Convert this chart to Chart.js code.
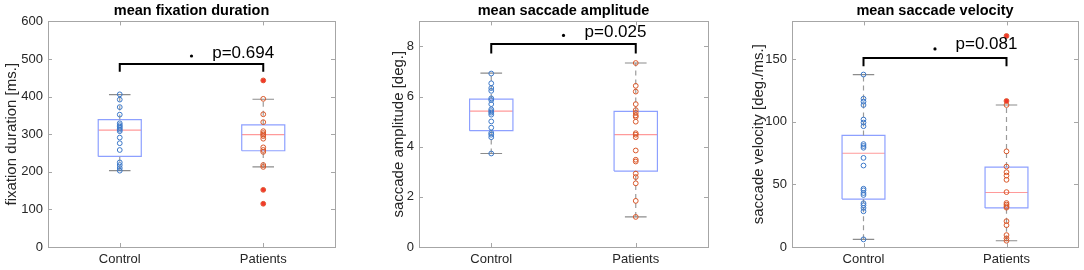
<!DOCTYPE html>
<html>
<head>
<meta charset="utf-8">
<script src="https://cdn.jsdelivr.net/npm/chart.js@4.4.1/dist/chart.umd.min.js"></script>
<style>
  html, body { margin: 0; padding: 0; background: #fff; }
  #wrap { position: relative; width: 1084px; height: 270px; }
  canvas { position: absolute; top: 0; }
</style>
</head>
<body>
<div id="wrap">
  <canvas id="c1" width="360" height="270" style="left:0px"></canvas>
  <canvas id="c2" width="360" height="270" style="left:360px"></canvas>
  <canvas id="c3" width="364" height="270" style="left:720px"></canvas>
</div>
<script>
const categories = ['Control', 'Patients'];

// mean fixation duration
const fixControl = [406, 392, 372, 352, 329, 324, 320, 316, 312, 308, 291, 276, 258, 225, 218, 210, 203];
const fixPatients = [443, 394, 353, 332, 308, 303, 299, 295, 288, 265, 258, 253, 218, 213, 152, 115];
const fixOutliers = [443, 152, 115];
const fixQ1 = [241, 256];
const fixMedian = [311, 299];
const fixQ3 = [339, 325];
const fixLow = [203, 213];
const fixHigh = [405, 393];
const fixTicks = [0, 100, 200, 300, 400, 500, 600];

// mean saccade amplitude
const ampControl = [6.92, 6.53, 6.34, 6.23, 5.93, 5.86, 5.70, 5.49, 5.42, 5.36, 5.28, 5.01, 4.76, 4.55, 4.48, 4.38, 3.73];
const ampPatients = [7.34, 6.43, 6.20, 5.70, 5.46, 5.35, 5.25, 5.19, 5.00, 4.54, 4.48, 4.38, 3.85, 3.48, 3.41, 2.93, 2.79, 2.54, 1.84, 1.20];
const ampOutliers = [];
const ampQ1 = [4.64, 3.03];
const ampMedian = [5.42, 4.48];
const ampQ3 = [5.90, 5.41];
const ampLow = [3.73, 1.20];
const ampHigh = [6.94, 7.34];
const ampTicks = [0, 2, 4, 6, 8];

// mean saccade velocity
const velControl = [137.6, 118.3, 116, 113.3, 101.7, 99.3, 96.4, 82.1, 80.6, 79.2, 71.1, 65, 46.5, 45.2, 43.1, 41.5, 34.9, 33.3, 31.2, 28.5, 6.1];
const velPatients = [168.4, 116.5, 113.3, 76.3, 64.2, 59.7, 57, 53.6, 43.8, 35.1, 33.8, 32.5, 31.4, 20.6, 17.4, 9.5, 6.9, 5.0];
const velOutliers = [168.4, 116.5];
const velQ1 = [38.2, 31.2];
const velMedian = [74.8, 43.5];
const velQ3 = [89, 63.8];
const velLow = [6.1, 5.0];
const velHigh = [137.6, 113.3];
const velTicks = [0, 50, 100, 150];

const pValues = ['p=0.694', 'p=0.025', 'p=0.081'];

const FONT = '"Liberation Sans", Arial, Helvetica, sans-serif';
const BOX_HALF = 0.15;
const CAP_HALF = 0.075;

function seg(points, color, width, dash) {
  return {
    data: points, showLine: true, borderColor: color, borderWidth: width,
    borderDash: dash || [], pointRadius: 0, tension: 0, order: 5
  };
}

function groupDatasets(q1, med, q3, lo, hi) {
  const out = [];
  for (let i = 0; i < 2; i++) {
    const x = i + 1;
    out.push(seg([{x: x, y: q3[i]}, {x: x, y: hi[i]}], '#9a9a9a', 1.2, [5, 4]));
    out.push(seg([{x: x, y: lo[i]}, {x: x, y: q1[i]}], '#9a9a9a', 1.2, [5, 4]));
    out.push(seg([{x: x - CAP_HALF, y: hi[i]}, {x: x + CAP_HALF, y: hi[i]}], '#8c8c8c', 1.2));
    out.push(seg([{x: x - CAP_HALF, y: lo[i]}, {x: x + CAP_HALF, y: lo[i]}], '#8c8c8c', 1.2));
    out.push(seg([
      {x: x - BOX_HALF, y: q1[i]}, {x: x + BOX_HALF, y: q1[i]},
      {x: x + BOX_HALF, y: q3[i]}, {x: x - BOX_HALF, y: q3[i]},
      {x: x - BOX_HALF, y: q1[i]}
    ], '#8da0ff', 1.2));
    out.push(seg([{x: x - BOX_HALF, y: med[i]}, {x: x + BOX_HALF, y: med[i]}], '#ff9a9a', 1.2));
  }
  return out;
}

function pointsDataset(values, x, color) {
  return {
    data: values.map(v => ({x: x, y: v})), showLine: false,
    pointStyle: 'circle', pointRadius: 2.4, pointBorderWidth: 1,
    pointBorderColor: color, pointBackgroundColor: 'rgba(0,0,0,0)', order: 1
  };
}

const frame = {
  id: 'frame',
  afterDraw(chart) {
    const {ctx, chartArea: a, scales} = chart;
    ctx.save();
    ctx.strokeStyle = '#a6a6a6';
    ctx.lineWidth = 1;
    ctx.strokeRect(Math.round(a.left) + 0.5, Math.round(a.top) + 0.5,
      Math.round(a.right - a.left), Math.round(a.bottom - a.top));
    ctx.beginPath();
    scales.y.ticks.forEach(t => {
      const y = Math.round(scales.y.getPixelForValue(t.value)) + 0.5;
      ctx.moveTo(a.left, y); ctx.lineTo(a.left + 4, y);
      ctx.moveTo(a.right, y); ctx.lineTo(a.right - 4, y);
    });
    scales.x.ticks.forEach(t => {
      const x = Math.round(scales.x.getPixelForValue(t.value)) + 0.5;
      ctx.moveTo(x, a.bottom); ctx.lineTo(x, a.bottom - 4);
      ctx.moveTo(x, a.top); ctx.lineTo(x, a.top + 4);
    });
    ctx.stroke();
    ctx.restore();
  }
};

const pLabel = {
  id: 'pLabel',
  afterDatasetsDraw(chart, args, opts) {
    const {ctx, scales} = chart;
    ctx.save();
    ctx.fillStyle = '#000';
    ctx.font = '17px ' + FONT;
    ctx.textAlign = 'center';
    ctx.textBaseline = 'middle';
    ctx.fillText(opts.text, scales.x.getPixelForValue(opts.x), scales.y.getPixelForValue(opts.y));
    ctx.restore();
  }
};

function makeChart(id, p) {
  const datasets = [
    {
      data: p.outliers.map(v => ({x: 2, y: v})), showLine: false,
      pointStyle: 'circle', pointRadius: 2.2, pointBorderWidth: 0,
      pointBackgroundColor: '#f03a2a', order: 0
    },
    pointsDataset(p.control, 1, '#3c78c8'),
    pointsDataset(p.patients, 2, '#d9582a'),
    ...groupDatasets(p.q1, p.median, p.q3, p.low, p.high),
    seg([{x: 1, y: p.legY}, {x: 1, y: p.barY}, {x: 2, y: p.barY}, {x: 2, y: p.legY}], '#000', 2),
    {
      data: [{x: 1.5, y: p.dotY}], showLine: false, pointStyle: 'circle',
      pointRadius: 1.6, pointBorderWidth: 0, pointBackgroundColor: '#000', order: 0
    }
  ];

  new Chart(document.getElementById(id), {
    type: 'scatter',
    data: {datasets: datasets},
    plugins: [frame, pLabel],
    options: {
      responsive: false,
      animation: false,
      layout: {padding: {left: 0, right: p.rightPad, top: 0, bottom: 0}},
      plugins: {
        legend: {display: false},
        tooltip: {enabled: false},
        title: {
          display: true, text: p.title, fullSize: false, color: '#000',
          font: {family: FONT, size: 14.5, weight: 'bold'},
          padding: {top: 2, bottom: 2}
        },
        pLabel: {text: p.pText, x: 1.86, y: p.textY}
      },
      scales: {
        x: {
          type: 'linear', min: 0.5, max: 2.5,
          grid: {display: false, drawTicks: false}, border: {display: false},
          afterBuildTicks: s => { s.ticks = [{value: 1}, {value: 2}]; },
          afterFit: s => { s.height = 23; },
          ticks: {
            callback: v => categories[v - 1], color: '#262626', padding: 5,
            font: {family: FONT, size: 13}, maxRotation: 0
          }
        },
        y: {
          min: 0, max: p.max,
          grid: {display: false, drawTicks: false}, border: {display: false},
          afterBuildTicks: s => { s.ticks = p.ticks.map(v => ({value: v})); },
          afterFit: s => { s.width = p.yWidth; },
          ticks: {color: '#262626', padding: 5, font: {family: FONT, size: 13}},
          title: {
            display: true, text: p.yTitle, color: '#262626',
            font: {family: FONT, size: 15}, padding: {top: p.titlePad, bottom: 0}
          }
        }
      }
    }
  });
}

makeChart('c1', {
  title: 'mean fixation duration', yTitle: 'fixation duration [ms.]',
  control: fixControl, patients: fixPatients, outliers: fixOutliers,
  q1: fixQ1, median: fixMedian, q3: fixQ3, low: fixLow, high: fixHigh,
  ticks: fixTicks, max: 600, pText: pValues[0],
  legY: 466, barY: 487, dotY: 508, textY: 516,
  yWidth: 48, titlePad: 3, rightPad: 25
});

makeChart('c2', {
  title: 'mean saccade amplitude', yTitle: 'saccade amplitude [deg.]',
  control: ampControl, patients: ampPatients, outliers: ampOutliers,
  q1: ampQ1, median: ampMedian, q3: ampQ3, low: ampLow, high: ampHigh,
  ticks: ampTicks, max: 9, pText: pValues[1],
  legY: 7.72, barY: 8.1, dotY: 8.44, textY: 8.58,
  yWidth: 59, titlePad: 30, rightPad: 12
});

makeChart('c3', {
  title: 'mean saccade velocity', yTitle: 'saccade velocity [deg./ms.]',
  control: velControl, patients: velPatients, outliers: velOutliers,
  q1: velQ1, median: velMedian, q3: velQ3, low: velLow, high: velHigh,
  ticks: velTicks, max: 180, pText: pValues[2],
  legY: 144.2, barY: 150.8, dotY: 158, textY: 161.4,
  yWidth: 72, titlePad: 30, rightPad: 6
});
</script>
</body>
</html>
